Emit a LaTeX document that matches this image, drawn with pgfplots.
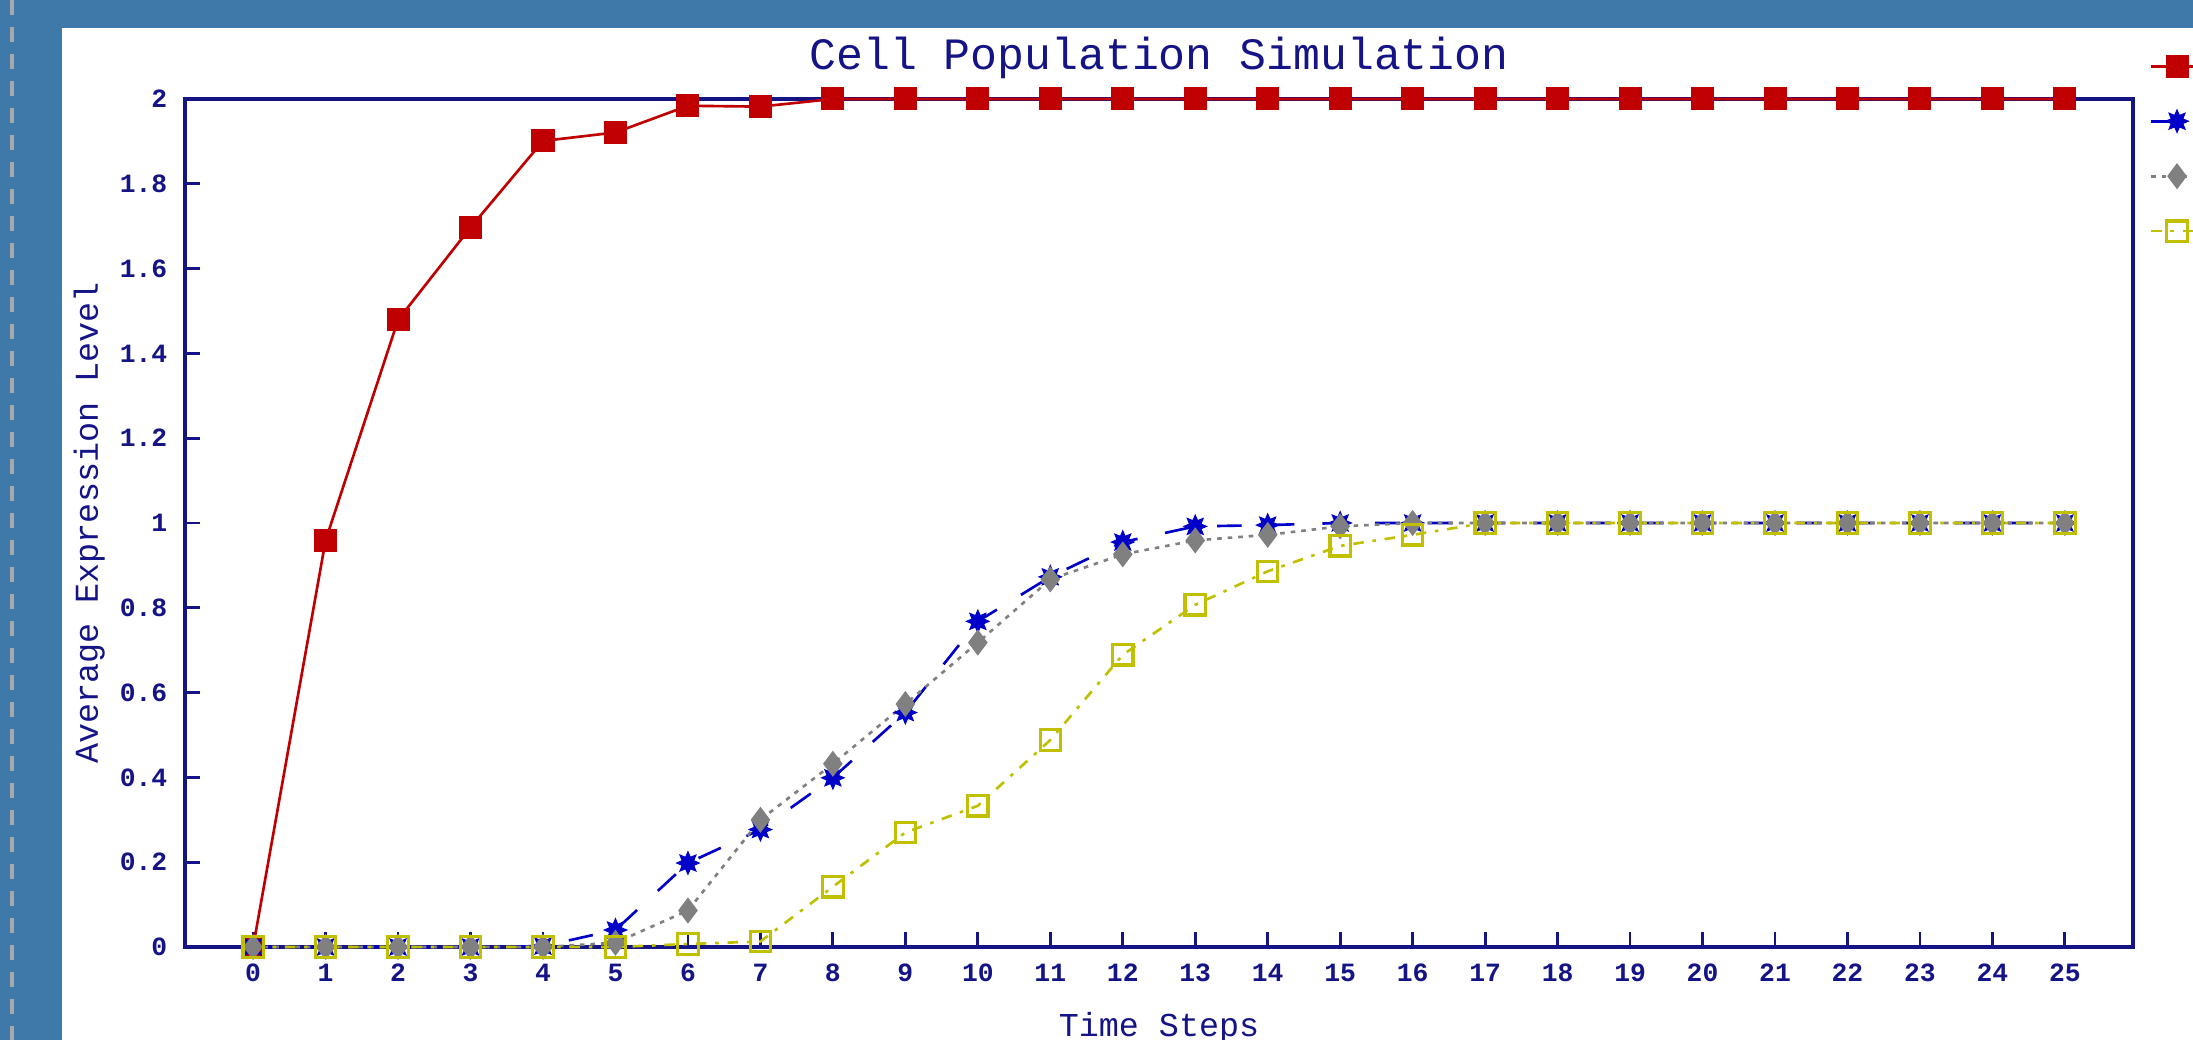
\documentclass[border=0pt]{standalone}
\usepackage{pgfplots}
\pgfplotsset{compat=1.18}
\usepackage{fontspec}
\setmainfont{Liberation Mono}
\usetikzlibrary{plotmarks}
\definecolor{navyc}{RGB}{20,20,135}
\definecolor{bgblue}{RGB}{63,121,169}
\definecolor{dashgray}{RGB}{168,168,168}
\definecolor{redc}{RGB}{192,0,0}
\definecolor{bluec}{RGB}{0,0,200}
\definecolor{grayc}{RGB}{128,128,128}
\definecolor{yellowc}{RGB}{192,192,0}
\pgfdeclareplotmark{fstar}{%
  \pgfpathmoveto{\pgfpointpolar{0}{\pgfplotmarksize}}%
  \pgfpathlineto{\pgfpointpolar{22.5}{0.55\pgfplotmarksize}}%
  \pgfpathlineto{\pgfpointpolar{45}{\pgfplotmarksize}}%
  \pgfpathlineto{\pgfpointpolar{67.5}{0.55\pgfplotmarksize}}%
  \pgfpathlineto{\pgfpointpolar{90}{\pgfplotmarksize}}%
  \pgfpathlineto{\pgfpointpolar{112.5}{0.55\pgfplotmarksize}}%
  \pgfpathlineto{\pgfpointpolar{135}{\pgfplotmarksize}}%
  \pgfpathlineto{\pgfpointpolar{157.5}{0.55\pgfplotmarksize}}%
  \pgfpathlineto{\pgfpointpolar{180}{\pgfplotmarksize}}%
  \pgfpathlineto{\pgfpointpolar{202.5}{0.55\pgfplotmarksize}}%
  \pgfpathlineto{\pgfpointpolar{225}{\pgfplotmarksize}}%
  \pgfpathlineto{\pgfpointpolar{247.5}{0.55\pgfplotmarksize}}%
  \pgfpathlineto{\pgfpointpolar{270}{\pgfplotmarksize}}%
  \pgfpathlineto{\pgfpointpolar{292.5}{0.55\pgfplotmarksize}}%
  \pgfpathlineto{\pgfpointpolar{315}{\pgfplotmarksize}}%
  \pgfpathlineto{\pgfpointpolar{337.5}{0.55\pgfplotmarksize}}%
  \pgfpathclose
  \pgfusepathqfillstroke
}
\begin{document}
\begin{tikzpicture}
\useasboundingbox (0,0) rectangle (21.93,10.40);
\fill[bgblue] (0,0) rectangle (21.93,10.40);
\fill[white] (0.615,0) rectangle (21.93,10.12);
\draw[dashgray, line width=0.035cm, dash pattern=on 0.15cm off 0.12cm] (0.12,10.40) -- (0.12,0);
\begin{axis}[
  at={(1.85cm,0.93cm)}, anchor=south west,
  width=19.48cm, height=8.48cm, scale only axis,
  xmin=-0.94, xmax=25.94, ymin=0, ymax=2,
  clip=false,
  axis line style={navyc, line width=1pt},
  every tick/.style={navyc, line width=0.8pt},
  tick align=inside, major tick length=0.15cm,
  tick pos=left,
  xtick={0,1,...,25},
  ytick={0,0.2,0.4,0.6,0.8,1,1.2,1.4,1.6,1.8,2},
  /pgf/number format/assume math mode=true,
  ticklabel style={font=\fontsize{7.5}{9}\selectfont\bfseries, text=navyc},
  yticklabel style={/pgf/number format/fixed, /pgf/number format/precision=1, anchor=east, inner sep=0pt, xshift=-0.17cm},
  xticklabel style={anchor=north, inner sep=0pt, yshift=-0.16cm},
  title={Cell Population Simulation},
  title style={at={(axis description cs:0.5,1.0094)}, anchor=base, yshift=0pt, font=\fontsize{12.75}{15}\selectfont, text=navyc, inner sep=0pt},
  xlabel={Time Steps},
  xlabel style={at={(axis description cs:0.5,-0.1050)}, anchor=base, font=\fontsize{9.5}{11}\selectfont, text=navyc, inner sep=0pt},
  ylabel={Average Expression Level},
  ylabel style={at={(axis description cs:-0.0447,0.5)}, anchor=base, font=\fontsize{9.5}{11}\selectfont, text=navyc, inner sep=0pt},
  legend style={at={(axis description cs:1,1)}, anchor=north west, xshift=0.16cm, yshift=0.61cm, draw=none, fill=none, inner sep=0pt, row sep=0pt, font=\fontsize{9.5}{11}\selectfont, text=navyc, nodes={inner sep=0pt, text height=0.275cm, text depth=0.275cm}},
  legend cell align=left,
  legend image code/.code={\draw[mark repeat=2,mark phase=2,#1] plot coordinates {(0cm,0cm) (0.26cm,0cm) (0.52cm,0cm)};},
]
\addplot[redc, line width=0.75pt, mark=square*, mark size=2.9pt, mark options={solid, fill=redc}] coordinates {
(0,0) (1,0.959) (2,1.479) (3,1.697) (4,1.901) (5,1.921) (6,1.984) (7,1.982) (8,2) (9,2) (10,2) (11,2) (12,2) (13,2) (14,2) (15,2) (16,2) (17,2) (18,2) (19,2) (20,2) (21,2) (22,2) (23,2) (24,2) (25,2)};
\addlegendentry{Gene A}
\addplot[bluec, line width=0.75pt, dash pattern=on 7pt off 8pt, mark=fstar, mark size=3.2pt, mark options={solid, fill=bluec, line width=0.3pt}] coordinates {
(0,0) (1,0) (2,0) (3,0) (4,0.002) (5,0.04) (6,0.198) (7,0.277) (8,0.399) (9,0.553) (10,0.768) (11,0.873) (12,0.955) (13,0.992) (14,0.995) (15,1) (16,1) (17,1) (18,1) (19,1) (20,1) (21,1) (22,1) (23,1) (24,1) (25,1)};
\addlegendentry{Gene B}
\addplot[grayc, line width=0.75pt, dash pattern=on 1.3pt off 1.7pt, mark=diamond*, mark size=3.1pt, mark options={solid, fill=grayc}] coordinates {
(0,0) (1,0) (2,0) (3,0) (4,0) (5,0.01) (6,0.086) (7,0.300) (8,0.432) (9,0.573) (10,0.718) (11,0.867) (12,0.926) (13,0.959) (14,0.972) (15,0.992) (16,1) (17,1) (18,1) (19,1) (20,1) (21,1) (22,1) (23,1) (24,1) (25,1)};
\addlegendentry{Gene C}
\addplot[yellowc, line width=0.75pt, dash pattern=on 3pt off 2.5pt on 1pt off 2.5pt, mark=square, mark size=2.9pt, mark options={solid, line width=0.9pt}] coordinates {
(0,0) (1,0) (2,0) (3,0) (4,0) (5,0) (6,0.007) (7,0.013) (8,0.142) (9,0.270) (10,0.333) (11,0.488) (12,0.689) (13,0.807) (14,0.886) (15,0.946) (16,0.972) (17,1) (18,1) (19,1) (20,1) (21,1) (22,1) (23,1) (24,1) (25,1)};
\addlegendentry{Gene D}
\end{axis}
\end{tikzpicture}
\end{document}
